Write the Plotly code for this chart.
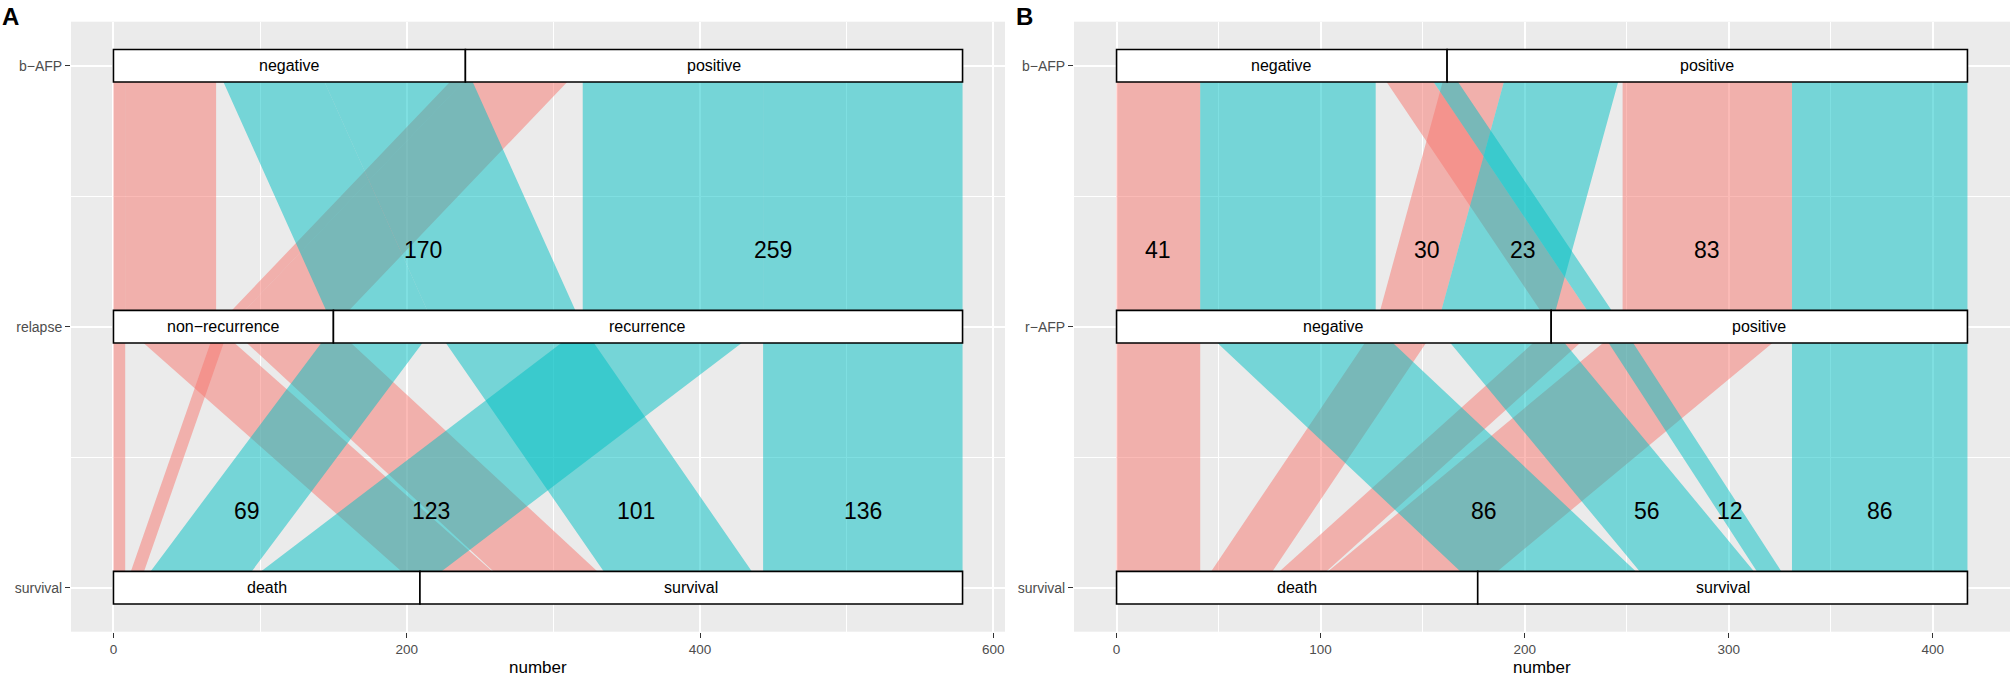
import plotly.graph_objects as go

# ---------------- data ----------------
# Panel A: b-AFP -> relapse -> survival, one alluvium per combination
A_axes = ["b-AFP", "relapse", "survival"]
A_levels = [["negative", "positive"], ["non-recurrence", "recurrence"], ["death", "survival"]]
A_bafp = ["negative", "negative", "negative", "negative", "positive", "positive", "positive", "positive"]
A_relapse = ["non-recurrence", "non-recurrence", "recurrence", "recurrence",
             "non-recurrence", "non-recurrence", "recurrence", "recurrence"]
A_surv = ["death", "survival", "death", "survival", "death", "survival", "death", "survival"]
A_count = [8, 62, 69, 101, 9, 71, 123, 136]
A_fill_axis = 1            # colour by relapse
A_label_segment = [0, 0, 1, 1, 1, 1]
A_label_members = [[2, 3], [6, 7], [2], [6], [3], [7]]

# Panel B: b-AFP -> r-AFP -> survival
B_axes = ["b-AFP", "r-AFP", "survival"]
B_levels = [["negative", "positive"], ["negative", "positive"], ["death", "survival"]]
B_bafp = ["negative", "negative", "negative", "negative", "positive", "positive", "positive", "positive"]
B_rafp = ["negative", "negative", "positive", "positive", "negative", "negative", "positive", "positive"]
B_surv = ["death", "survival", "death", "survival", "death", "survival", "death", "survival"]
B_count = [41, 86, 23, 12, 30, 56, 83, 86]
B_fill_axis = 2            # colour by survival
B_label_segment = [0, 0, 0, 0, 1, 1, 1, 1]
B_label_members = [[0], [4], [2], [6], [1], [5], [3], [7]]

# ---------------- styling ----------------
FONT = "Liberation Sans, Arial, Helvetica, sans-serif"
FILLS = ["rgba(248,118,109,0.5)", "rgba(0,191,196,0.5)"]
BOX_HALF = 0.0625
LABEL_T = 0.705
W, H = 2016, 680
MINUS = "\u2212"


def lode_positions(strata, levels, counts):
    n_ax = len(strata)
    n = len(counts)
    idx = [[levels[i].index(strata[i][k]) for k in range(n)] for i in range(n_ax)]
    pos = []
    for i in range(n_ax):
        others = sorted([j for j in range(n_ax) if j != i], key=lambda j: (abs(j - i), j))
        order = sorted(range(n), key=lambda k: (idx[i][k],) + tuple(idx[j][k] for j in others))
        p = [0] * n
        cum = 0
        for k in order:
            p[k] = cum
            cum += counts[k]
        pos.append(p)
    return pos, idx


fig = go.Figure()
shapes = []
annotations = []


def add_panel(axes, levels, strata, counts, fill_axis, lab_seg, lab_mem, xa, ya, xref, yref):
    n_ax = len(axes)
    pos, idx = lode_positions(strata, levels, counts)
    yv = [n_ax - i for i in range(n_ax)]
    order = sorted(range(len(counts)), key=lambda k: idx[fill_axis][k])
    for k in order:
        left = [pos[i][k] for i in range(n_ax)]
        right = [pos[i][k] + counts[k] for i in range(n_ax)]
        xs = left + right[::-1] + [left[0]]
        ys = yv + yv[::-1] + [yv[0]]
        fig.add_trace(go.Scatter(
            x=xs, y=ys, mode="lines", fill="toself",
            fillcolor=FILLS[idx[fill_axis][k]], line=dict(width=0),
            hoverinfo="skip", showlegend=False, xaxis=xa, yaxis=ya))
    # strata boxes
    for i in range(n_ax):
        cum = 0
        for li, lev in enumerate(levels[i]):
            tot = sum(c for c, s in zip(counts, strata[i]) if s == lev)
            shapes.append(dict(type="rect", xref=xref, yref=yref,
                               x0=cum, x1=cum + tot, y0=yv[i] - BOX_HALF, y1=yv[i] + BOX_HALF,
                               fillcolor="white", line=dict(color="black", width=1.6),
                               layer="above"))
            annotations.append(dict(x=cum + tot / 2, y=yv[i], xref=xref, yref=yref,
                                    text=lev.replace("-", MINUS), showarrow=False,
                                    font=dict(family=FONT, size=16, color="black"),
                                    xanchor="center", yanchor="middle"))
            cum += tot
    # flow labels
    for s, mem in zip(lab_seg, lab_mem):
        l0 = min(pos[s][k] for k in mem)
        r0 = max(pos[s][k] + counts[k] for k in mem)
        l1 = min(pos[s + 1][k] for k in mem)
        r1 = max(pos[s + 1][k] + counts[k] for k in mem)
        c0 = (l0 + r0) / 2
        c1 = (l1 + r1) / 2
        annotations.append(dict(x=c0 + LABEL_T * (c1 - c0), y=yv[s] - LABEL_T,
                                xref=xref, yref=yref, text=str(sum(counts[k] for k in mem)),
                                showarrow=False, font=dict(family=FONT, size=23, color="black"),
                                xanchor="center", yanchor="middle"))
    return sum(counts)


NA = add_panel(A_axes, A_levels, [A_bafp, A_relapse, A_surv], A_count, A_fill_axis,
               A_label_segment, A_label_members, "x", "y", "x", "y")
NB = add_panel(B_axes, B_levels, [B_bafp, B_rafp, B_surv], B_count, B_fill_axis,
               B_label_segment, B_label_members, "x2", "y2", "x2", "y2")

y_lo = 1 - BOX_HALF
y_hi = 3 + BOX_HALF
y_pad = 0.05 * (y_hi - y_lo)
y_range = [y_lo - y_pad, y_hi + y_pad]

dom_y = [(H - 631.7) / H, (H - 21.7) / H]
domA = [71 / W, 1005 / W]
domB = [1074 / W, 2010 / W]


def xaxis(dom, n, dt, anchor):
    return dict(domain=dom, range=[-0.05 * n, 1.05 * n], anchor=anchor,
                dtick=dt, tick0=0, showgrid=True, gridcolor="white", gridwidth=1.6,
                zeroline=False, showline=False, ticks="outside", ticklen=5, tickwidth=1.1,
                tickcolor="#333333",
                tickfont=dict(family=FONT, size=13.5, color="#4D4D4D"),
                minor=dict(dtick=dt / 2, tick0=0, showgrid=True, gridcolor="white", gridwidth=0.8),
                fixedrange=True)


def yaxis(dom, axes, anchor):
    return dict(domain=dom, range=y_range, anchor=anchor,
                tickmode="array", tickvals=[3, 2, 1], ticktext=[a.replace("-", MINUS) for a in axes],
                showgrid=True, gridcolor="white", gridwidth=1.6, zeroline=False, showline=False,
                ticks="outside", ticklen=5, tickwidth=1.1, tickcolor="#333333",
                tickfont=dict(family=FONT, size=14, color="#4D4D4D"),
                minor=dict(tickmode="array", tickvals=[1.5, 2.5], showgrid=True,
                           gridcolor="white", gridwidth=0.8),
                fixedrange=True)


# axis titles and panel tags
for dom, tag, tagx in [(domA, "A", 0 / W), (domB, "B", 1014 / W)]:
    annotations.append(dict(x=(dom[0] + dom[1]) / 2, y=(H - 667) / H, xref="paper", yref="paper",
                            text="number", showarrow=False,
                            font=dict(family=FONT, size=17, color="black"),
                            xanchor="center", yanchor="middle"))
    annotations.append(dict(x=tagx, y=(H - 16.5) / H, xref="paper", yref="paper",
                            text="<b>" + tag + "</b>", showarrow=False,
                            font=dict(family=FONT, size=24, color="black"),
                            xanchor="left", yanchor="middle"))

fig.update_layout(
    width=W, height=H, autosize=False,
    margin=dict(l=0, r=0, t=0, b=0),
    paper_bgcolor="white", plot_bgcolor="#EBEBEB",
    showlegend=False,
    xaxis=xaxis(domA, NA, 200, "y"),
    yaxis=yaxis(dom_y, A_axes, "x"),
    xaxis2=xaxis(domB, NB, 100, "y2"),
    yaxis2=yaxis(dom_y, B_axes, "x2"),
    shapes=shapes,
    annotations=annotations,
)

fig.write_html(
    "out.html",
    config={"displayModeBar": False},
    post_script=("document.documentElement.style.margin='0';"
                 "document.body.style.margin='0';"
                 "document.documentElement.style.overflow='hidden';"
                 "document.body.style.overflow='hidden';"),
)
